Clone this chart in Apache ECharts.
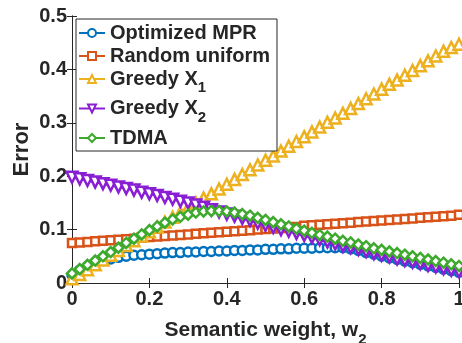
<!DOCTYPE html>
<html>
<head>
<meta charset="utf-8">
<script src="https://cdn.jsdelivr.net/npm/echarts@6/dist/echarts.min.js"></script>
<style>
  html, body { margin: 0; padding: 0; background: #fff; }
  #chart { width: 462px; height: 343px; }
</style>
</head>
<body>
<div id="chart"></div>
<script>
    var weights = [0, 0.02, 0.04, 0.06, 0.08, 0.1, 0.12, 0.14, 0.16, 0.18, 0.2, 0.22, 0.24, 0.26, 0.28, 0.3, 0.32, 0.34, 0.36, 0.38, 0.4,
        0.42, 0.44, 0.46, 0.48, 0.5, 0.52, 0.54, 0.56, 0.58, 0.6, 0.62, 0.64, 0.66, 0.68, 0.7, 0.72, 0.74, 0.76, 0.78, 0.8,
        0.82, 0.84, 0.86, 0.88, 0.9, 0.92, 0.94, 0.96, 0.98, 1];

    var optimizedMPR = [0.015, 0.024, 0.031, 0.037, 0.042, 0.045, 0.048, 0.050, 0.052, 0.053, 0.054, 0.055, 0.056, 0.057, 0.057, 0.058, 0.058, 0.059, 0.059, 0.060, 0.060,
        0.061, 0.061, 0.062, 0.062, 0.063, 0.063, 0.064, 0.064, 0.065, 0.065, 0.065, 0.066, 0.066, 0.066, 0.066, 0.064, 0.061, 0.057, 0.054, 0.050,
        0.047, 0.044, 0.041, 0.038, 0.035, 0.032, 0.029, 0.026, 0.023, 0.020];

    var randomUniform = [0.075, 0.076, 0.077, 0.078, 0.079, 0.080, 0.081, 0.082, 0.083, 0.085, 0.086, 0.087, 0.088, 0.089, 0.090, 0.091, 0.092, 0.093, 0.094, 0.095, 0.096,
        0.097, 0.098, 0.099, 0.100, 0.101, 0.102, 0.103, 0.104, 0.105, 0.107, 0.108, 0.109, 0.110, 0.111, 0.112, 0.113, 0.114, 0.115, 0.116, 0.117,
        0.118, 0.119, 0.120, 0.121, 0.122, 0.123, 0.124, 0.125, 0.126, 0.128];

    var greedyX1 = [0.008, 0.016, 0.025, 0.034, 0.043, 0.052, 0.061, 0.070, 0.079, 0.088, 0.096, 0.105, 0.114, 0.123, 0.132, 0.141, 0.150, 0.159, 0.167, 0.176, 0.185,
        0.194, 0.203, 0.212, 0.221, 0.230, 0.238, 0.247, 0.256, 0.265, 0.274, 0.283, 0.292, 0.301, 0.309, 0.318, 0.327, 0.336, 0.345, 0.354, 0.363,
        0.372, 0.380, 0.389, 0.398, 0.407, 0.416, 0.425, 0.434, 0.441, 0.447];

    var greedyX2 = [0.198, 0.195, 0.192, 0.189, 0.186, 0.183, 0.180, 0.177, 0.174, 0.170, 0.167, 0.164, 0.160, 0.157, 0.153, 0.150, 0.146, 0.142, 0.137, 0.133, 0.129,
        0.125, 0.121, 0.117, 0.112, 0.108, 0.104, 0.100, 0.097, 0.093, 0.089, 0.085, 0.081, 0.077, 0.073, 0.069, 0.066, 0.063, 0.059, 0.055, 0.052,
        0.049, 0.045, 0.042, 0.039, 0.036, 0.033, 0.030, 0.027, 0.024, 0.021];

    var tdma = [0.018, 0.026, 0.034, 0.042, 0.050, 0.058, 0.066, 0.075, 0.083, 0.091, 0.099, 0.106, 0.113, 0.119, 0.124, 0.128, 0.132, 0.134, 0.135, 0.135, 0.134,
        0.132, 0.129, 0.126, 0.122, 0.118, 0.114, 0.110, 0.106, 0.102, 0.098, 0.094, 0.090, 0.087, 0.083, 0.079, 0.076, 0.072, 0.069, 0.065, 0.062,
        0.059, 0.056, 0.053, 0.050, 0.047, 0.044, 0.041, 0.038, 0.035, 0.032];

    var names = ['Optimized MPR', 'Random uniform', 'Greedy X1', 'Greedy X2', 'TDMA'];
    var colors = ['#0072BD', '#D95319', '#EDB120', '#8A1ED4', '#3DAA2E'];
    var symbols = ['circle', 'rect', 'triangle', 'triangle', 'diamond'];
    var values = [optimizedMPR, randomUniform, greedyX1, greedyX2, tdma];

    var ink = '#262626';
    var font = 'Liberation Sans, Arial, sans-serif';

    function pairs(ys) {
        return weights.map(function (w, i) { return [w, ys[i]]; });
    }

    var series = names.map(function (name, k) {
        return {
            name: name,
            type: 'line',
            data: pairs(values[k]),
            clip: false,
            symbol: symbols[k],
            symbolSize: k == 1 ? 8 : (k == 2 || k == 3 ? 11 : (k == 4 ? 10 : 9)),
            symbolRotate: k == 3 ? 180 : 0,
            showAllSymbol: true,
            lineStyle: { color: colors[k], width: 2.5 },
            itemStyle: { color: '#fff', borderColor: colors[k], borderWidth: 2.5 },
            emphasis: { disabled: true },
            animation: false
        };
    });

    var myChart = echarts.init(document.getElementById('chart'));

    var option = {
        backgroundColor: '#fff',
        animation: false,
        color: colors,
        grid: { left: 72, right: 3, top: 16, bottom: 60, containLabel: false, outerBoundsMode: 'none' },
        legend: {
            orient: 'vertical',
            left: 76,
            top: 19,
            padding: [4, 7, 3, 2],
            itemGap: 3,
            itemWidth: 26,
            itemHeight: 10,
            backgroundColor: '#fff',
            borderColor: ink,
            borderWidth: 1,
            borderRadius: 0,
            data: names.map(function (n, k) {
                return { name: n, itemStyle: { color: '#fff', borderColor: colors[k], borderWidth: 2 } };
            }),
            textStyle: {
                color: ink, fontFamily: font, fontWeight: 'bold', fontSize: 20,
                rich: {
                    m: { color: ink, fontFamily: font, fontWeight: 'bold', fontSize: 20 },
                    s: { color: ink, fontFamily: font, fontWeight: 'bold', fontSize: 15, padding: [18, 0, 0, 0] }
                }
            },
            formatter: function (n) {
                if (n == 'Greedy X1') return '{m|Greedy X}{s|1}';
                if (n == 'Greedy X2') return '{m|Greedy X}{s|2}';
                return '{m|' + n + '}';
            }
        },
        xAxis: [{
            type: 'value',
            min: 0, max: 1, interval: 0.2,
            name: '{m|Semantic weight, w}{s|2}',
            nameLocation: 'middle',
            nameGap: 31,
            nameTextStyle: {
                rich: {
                    m: { color: ink, fontFamily: font, fontWeight: 'bold', fontSize: 21 },
                    s: { color: ink, fontFamily: font, fontWeight: 'bold', fontSize: 15, padding: [18, 0, 0, 0] }
                }
            },
            axisLine: { show: true, lineStyle: { color: ink, width: 1 } },
            axisTick: { show: true, inside: true, length: 5, lineStyle: { color: ink } },
            axisLabel: { color: ink, fontFamily: font, fontWeight: 'bold', fontSize: 20, margin: 6 },
            splitLine: { show: false }
        }, {
            type: 'value',
            position: 'top',
            min: 0, max: 1, interval: 0.2,
            axisLine: { show: true, lineStyle: { color: ink, width: 1 } },
            axisTick: { show: true, inside: true, length: 5, lineStyle: { color: ink } },
            axisLabel: { show: false },
            splitLine: { show: false }
        }],
        yAxis: [{
            type: 'value',
            min: 0, max: 0.5, interval: 0.1,
            name: 'Error',
            nameLocation: 'middle',
            nameGap: 39,
            nameMoveOverlap: false,
            nameTextStyle: { color: ink, fontFamily: font, fontWeight: 'bold', fontSize: 22 },
            axisLine: { show: true, lineStyle: { color: ink, width: 1 } },
            axisTick: { show: true, inside: true, length: 5, lineStyle: { color: ink } },
            axisLabel: { color: ink, fontFamily: font, fontWeight: 'bold', fontSize: 20, margin: 5 },
            splitLine: { show: false }
        }, {
            type: 'value',
            position: 'right',
            min: 0, max: 0.5, interval: 0.1,
            axisLine: { show: true, lineStyle: { color: ink, width: 1 } },
            axisTick: { show: true, inside: true, length: 5, lineStyle: { color: ink } },
            axisLabel: { show: false },
            splitLine: { show: false }
        }],
        series: series
    };

    myChart.setOption(option);
</script>
</body>
</html>
